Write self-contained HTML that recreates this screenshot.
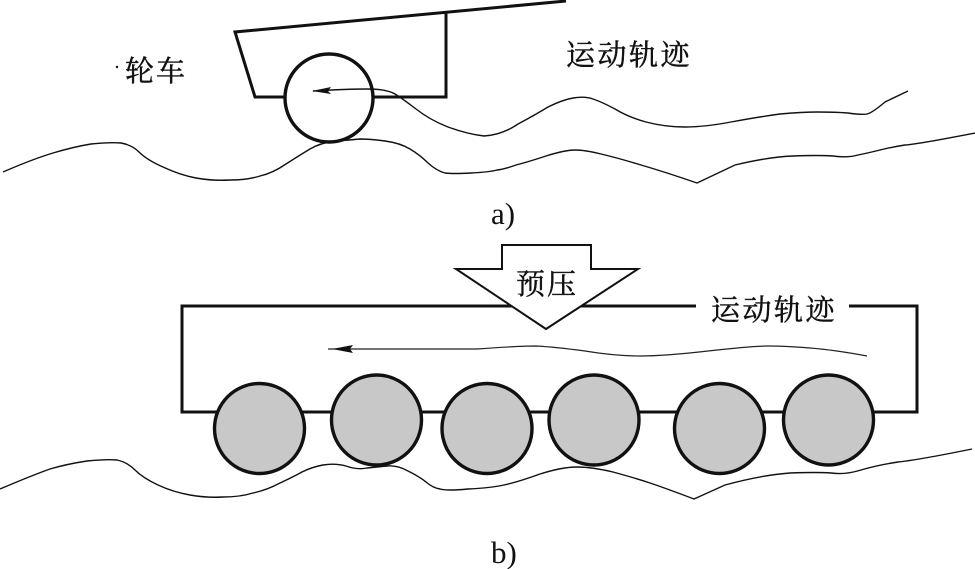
<!DOCTYPE html>
<html>
<head>
<meta charset="utf-8">
<style>
html,body{margin:0;padding:0;background:#fff;width:975px;height:569px;overflow:hidden}
svg{display:block}
.cjk{font-family:"Liberation Serif","Noto Serif CJK SC",serif;font-size:29px;fill:#111;stroke:#111;stroke-width:.45}
.lat{font-family:"Liberation Serif",serif;font-size:31px;fill:#111}
</style>
</head>
<body>
<svg width="975" height="569" viewBox="0 0 975 569" xmlns="http://www.w3.org/2000/svg">
<rect width="975" height="569" fill="#fff"/>
<!-- a) cart -->
<path d="M566 1L235 32L255 97H446V13" fill="none" stroke="#111" stroke-width="3"/>
<circle cx="329" cy="98" r="44" fill="#fff" stroke="#111" stroke-width="3.4"/>
<path d="M313 91Q347 89 367 89Q387 89 395 94Q403 99 416 109Q430 120 448 127Q467 134 484 136Q502 135 518 124Q535 115 548 107Q562 100 573 98Q585 96 593 99Q602 102 615 109Q628 117 646 122Q665 127 685 127Q705 127 731 122Q758 117 780 114Q802 112 818 112Q835 112 848 113Q862 115 867 114Q872 113 885 102L908 91" fill="none" stroke="#111" stroke-width="1.4"/>
<polygon points="312,91 331,87 328,91 331,94" fill="#111"/>
<path d="M3 172Q33 159 53 153Q73 147 91 144Q110 142 121 143Q132 145 139 152Q147 160 163 167Q180 175 196 178Q213 181 230 180Q247 180 260 176Q273 173 286 164Q300 155 310 149Q320 143 335 141Q350 140 360 139Q370 139 385 141Q400 143 410 149Q420 155 428 163Q437 171 445 173Q453 174 471 173Q490 172 497 170Q505 169 516 165Q528 162 546 156Q565 150 575 150Q585 150 601 154Q618 158 641 165Q665 172 697 183L735 165Q768 157 793 156Q818 155 833 156Q848 158 858 155Q868 153 880 150Q892 147 905 145Q918 144 975 133" fill="none" stroke="#111" stroke-width="1.4"/>
<circle cx="117" cy="67" r="1.2" fill="#111"/>
<text class="cjk" x="125" y="81" letter-spacing="2">轮车</text>
<text class="cjk" x="566" y="65" letter-spacing="2.5">运动轨迹</text>
<text class="lat" x="491" y="224">a)</text>
<!-- b) frame -->
<path d="M696 306H182V412H917V306H849" fill="none" stroke="#111" stroke-width="3"/>
<polygon points="502,245 591,245 591,269 638,269 546,329 456,269 502,269" fill="#fff" stroke="#111" stroke-width="2"/>
<text class="cjk" x="516" y="294" letter-spacing="2">预压</text>
<text class="cjk" x="711" y="320" letter-spacing="2.5">运动轨迹</text>
<g fill="#c8c8c8" stroke="#111" stroke-width="3.4">
<circle cx="259.500" cy="428.500" r="45"/>
<circle cx="376.500" cy="420" r="45"/>
<circle cx="487" cy="428.500" r="45"/>
<circle cx="594" cy="420" r="45"/>
<circle cx="719.500" cy="428.500" r="45"/>
<circle cx="828.500" cy="420" r="45"/>
</g>
<path d="M328 349H477Q518 346 536 346Q555 347 585 351Q615 356 640 356Q665 356 708 351Q752 346 768 346Q785 346 810 348Q835 350 867 356" fill="none" stroke="#222" stroke-width="1.2"/>
<polygon points="332,349 353,345 350,349 353,353" fill="#111"/>
<path d="M0 489Q33 475 50 469Q67 464 87 461Q107 459 117 460Q127 462 135 470Q143 478 158 485Q173 492 190 495Q207 498 223 497Q240 497 253 493Q267 490 280 483Q293 477 302 472Q312 467 323 465Q335 463 346 466Q357 470 367 468Q377 467 387 466Q397 465 408 471Q420 477 426 482Q433 488 440 489Q447 491 468 489Q490 488 504 485Q518 482 540 474Q562 467 577 467Q592 467 613 472Q635 478 650 483Q665 488 694 499L725 485Q762 475 790 473Q818 472 831 473Q845 475 861 470Q878 465 898 462Q918 460 972 449" fill="none" stroke="#111" stroke-width="1.4"/>
<text class="lat" x="491" y="563">b)</text>
</svg>
</body>
</html>
